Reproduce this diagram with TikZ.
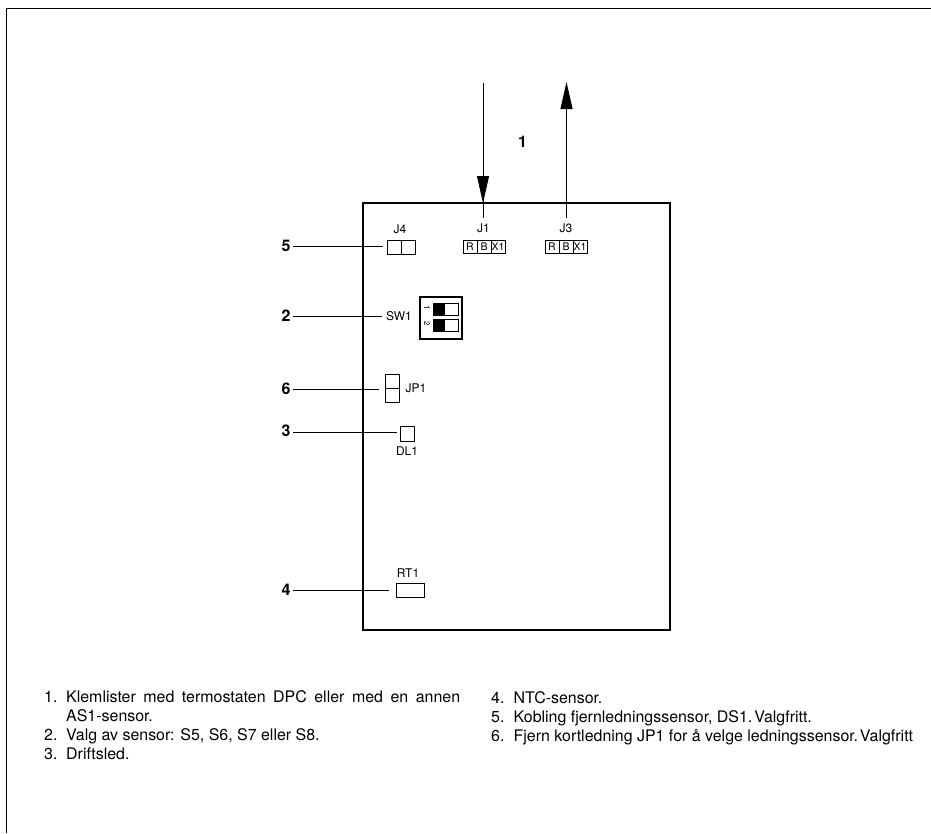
\documentclass[tikz,border=0pt]{standalone}
\usepackage{fontspec}
\setmainfont{TeX Gyre Heros}
\usetikzlibrary{arrows.meta}
\tikzset{
  lab/.style={inner sep=0pt,font=\fontsize{12}{14}\selectfont},
  num/.style={inner sep=0pt,font=\fontsize{16}{18}\selectfont\bfseries},
  item/.style={inner sep=0pt,anchor=north west,align=left,font=\fontsize{15.95}{19}\selectfont},
  part/.style={draw=black,line width=0.9pt,inner sep=0pt,fill=white},
  lead/.style={draw=black,line width=0.8pt},
  sig/.style={draw=black,line width=0.9pt,-{Triangle[length=27pt,width=12pt]}},
  term/.style={part,minimum width=14pt,minimum height=13pt,font=\fontsize{10.5}{11}\selectfont}
}
\begin{document}
\begin{tikzpicture}[x=1pt,y=-1pt]
\useasboundingbox (0,0) rectangle (931,833);
% frame
\draw[line width=1.6pt] (6.5,833) -- (6.5,8.5) -- (931,8.5);
% board
\node[draw=black,line width=1.6pt,minimum width=307pt,minimum height=427pt,inner sep=0pt] (board) at (516.5,416.5) {};
% J1, J3 terminals
\node[lab] (j4l) at (400,229) {J4};
\node[lab] (j1l) at (483.5,228.5) {J1};
\node[lab] (j3l) at (566,228.5) {J3};
\node[term] (j1r) at (470,246.5) {R};
\node[term] (j1b) at (484,246.5) {B};
\node[term] (j1x) at (498,246.5) {X1};
\node[term] (j3r) at (552,246.5) {R};
\node[term] (j3b) at (566,246.5) {B};
\node[term] (j3x) at (580,246.5) {X1};
% arrows
\coordinate (j1top) at (483,83);
\coordinate (j1bot) at (483,203);
\coordinate (j1end) at (483,218);
\coordinate (j3top) at (566.5,82);
\coordinate (j3bot) at (566.5,218);
\draw[line width=0.9pt] (j1top) -- (j1end);
\draw[sig] (j1top) -- (j1bot);
\draw[sig] (j3bot) -- (j3top);
\node[num] (n1) at (522.5,142) {1};
% J4
\node[part,minimum width=14pt,minimum height=14pt] (j4a) at (394,247) {};
\node[part,minimum width=14pt,minimum height=14pt] (j4b) at (408,247) {};
\node[num] (n5) at (286,246) {5};
\coordinate (c5) at (293,246);
\coordinate (e5) at (383,246);
\draw[lead] (c5) -- (e5);
% SW1
\node[part,line width=1.2pt,minimum width=42pt,minimum height=42pt] (sw) at (441,318) {};
\node[part,line width=0.8pt,minimum width=25pt,minimum height=12pt] (s1) at (445.5,309) {};
\node[part,line width=0.8pt,minimum width=25pt,minimum height=12pt] (s2) at (445.5,325) {};
\fill (s1.north west) rectangle ([xshift=12pt]s1.south west);
\fill (s2.north west) rectangle ([xshift=12pt]s2.south west);
\node[inner sep=0pt,rotate=-90,font=\fontsize{8}{9}\selectfont] (t1) at (427,308) {1};
\node[inner sep=0pt,rotate=-90,font=\fontsize{8}{9}\selectfont] (t2) at (427,324) {2};
\node[lab] (swl) at (399,316.5) {SW1};
\node[num] (n2) at (286,316) {2};
\coordinate (c2) at (293,316);
\coordinate (e2) at (382,316);
\draw[lead] (c2) -- (e2);
% JP1
\node[part,minimum width=14pt,minimum height=14pt] (jpa) at (392,381) {};
\node[part,minimum width=14pt,minimum height=14pt] (jpb) at (392,395) {};
\node[lab] (jpl) at (416,388) {JP1};
\node[num] (n6) at (286,389) {6};
\coordinate (c6) at (293,389);
\coordinate (e6) at (379,389);
\draw[lead] (c6) -- (e6);
% DL1
\node[part,minimum width=14pt,minimum height=15pt] (dl) at (407,433.5) {};
\node[lab] (dll) at (407,451) {DL1};
\node[num] (n3) at (286,431) {3};
\coordinate (c3) at (293,432);
\coordinate (e3) at (397,432);
\draw[lead] (c3) -- (e3);
% RT1
\node[part,minimum width=28pt,minimum height=14pt] (rt) at (410,590.5) {};
\node[lab] (rtl) at (408,573) {RT1};
\node[num] (n4) at (286,590) {4};
\coordinate (c4) at (293,590);
\coordinate (e4) at (389,590);
\draw[lead] (c4) -- (e4);
% lists
\node[item] (la) at (44,688.5) {\strut 1.\\ \strut\\2.\\3.};
\node[item] (lb) at (66,688.5) {\strut\makebox[394pt][s]{Klemlister med termostaten DPC eller med en annen}\\AS1-sensor.\\Valg av sensor: S5, S6, S7 eller S8.\\Driftsled.};
\node[item] (ra) at (491,689.5) {\strut 4.\\5.\\6.};
\node[item] (rb) at (513.5,689.5) {\strut NTC-sensor.\\Kobling fjernledningssensor, DS1.\hspace{2pt}Valgfritt.\\Fjern kortledning JP1 for å velge ledningssensor.\hspace{2pt}Valgfritt};
\end{tikzpicture}
\end{document}
